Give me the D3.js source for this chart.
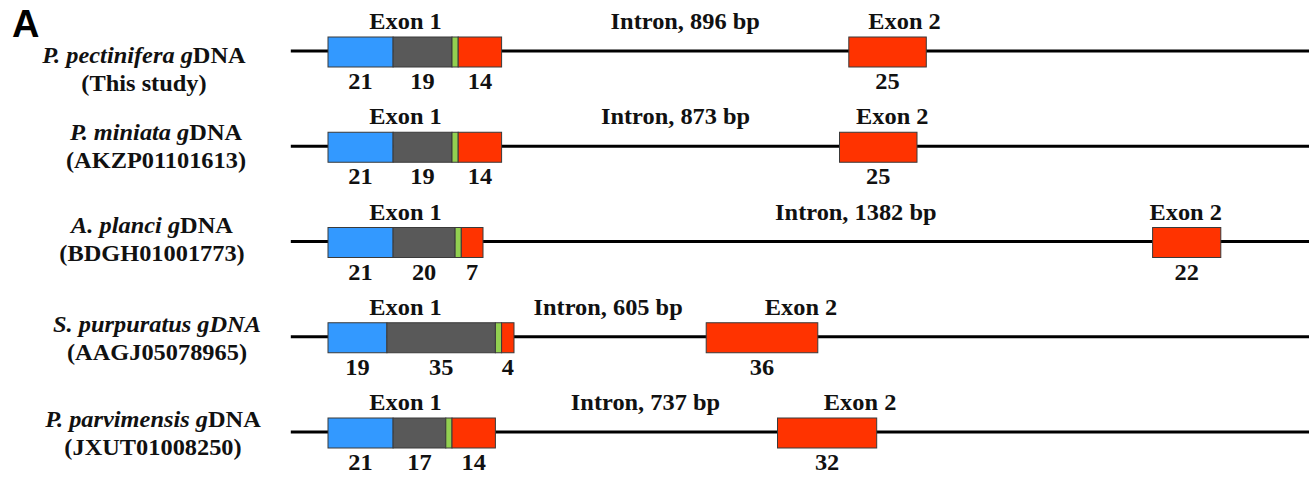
<!DOCTYPE html>
<html>
<head>
<meta charset="utf-8">
<script src="https://cdn.jsdelivr.net/npm/d3@7"></script>
<style>
body { margin: 0; background: #fff; }
svg { display: block; }
</style>
</head>
<body>
<svg id="chart" width="1309" height="477"></svg>
<script>
// gene rows, top to bottom
var species = ["P. pectinifera", "P. miniata", "A. planci", "S. purpuratus", "P. parvimensis"];
var accessions = ["(This study)", "(AKZP01101613)", "(BDGH01001773)", "(AAGJ05078965)", "(JXUT01008250)"];
var dnaItalic = [false, false, false, true, false];

// exon 1 parts (aa): blue, grey, green (unlabelled), red
var partBlue = [21, 21, 21, 19, 21];
var partGrey = [19, 19, 20, 35, 17];
var partGreen = [2, 2, 2, 2, 2];
var partRed = [14, 14, 7, 4, 14];
// exon 2 (aa)
var exon2 = [25, 25, 22, 36, 32];
// intron size (bp) and the length it is drawn with (aa units, not to scale)
var intronBp = [896, 873, 1382, 605, 737];
var intronDrawn = [112, 109, 216, 62, 91];

// label placement tweaks
var speciesX = [144, 156, 152, 157, 153];
var speciesDy = [12, -6, -9, -5, -5];
var intronNudge = [10, 5, 38, -2, 9];
var exon2Nudge = [17, 14, -1, 39, 33];

var colorBlue = "#3399ff";
var colorGrey = "#595959";
var colorGreen = "#92d050";
var colorRed = "#ff3300";
var stretch = 1.06;

var width = 1309;
var svg = d3.select("#chart");
var x = d3.scaleLinear().domain([0, 100]).range([328, 638]);
var y = d3.scalePoint().domain(d3.range(species.length)).range([51, 432]);

function label(px, py, size) {
    return svg.append("text")
        .attr("transform", "translate(" + px + "," + py + ") scale(" + stretch + ",1)")
        .attr("text-anchor", "middle")
        .style("font-family", "'Liberation Serif','Times New Roman',serif")
        .style("font-weight", "bold")
        .style("font-size", (size || 23) + "px")
        .style("fill", "#111");
}

svg.append("text").attr("x", 12).attr("y", 37)
    .style("font-family", "'Liberation Sans',Arial,sans-serif")
    .style("font-weight", "bold").style("font-size", "38px")
    .text("A");

species.forEach(function (name, i) {
    var yy = y(i);
    var segs = [];
    var pos = 0;
    [[partBlue[i], colorBlue, true], [partGrey[i], colorGrey, true],
     [partGreen[i], colorGreen, false], [partRed[i], colorRed, true]].forEach(function (p) {
        segs.push({start: pos, len: p[0], color: p[1], show: p[2]});
        pos += p[0];
    });
    var exon1End = pos;
    var exon2Start = exon1End + intronDrawn[i];
    segs.push({start: exon2Start, len: exon2[i], color: colorRed, show: true});

    // species label
    var t = label(speciesX[i], yy + speciesDy[i]);
    t.append("tspan").style("font-style", "italic").text(name + " ");
    t.append("tspan").style("font-style", "italic").text("g");
    t.append("tspan").style("font-style", dnaItalic[i] ? "italic" : "normal").text("DNA");
    label(speciesX[i], yy + speciesDy[i] + 28).text(accessions[i]);

    // backbone
    svg.append("line")
        .attr("x1", x(-12)).attr("x2", width)
        .attr("y1", yy).attr("y2", yy)
        .attr("stroke", "#000").attr("stroke-width", 3);

    svg.selectAll(null).data(segs).enter().append("rect")
        .attr("x", function (d) { return x(d.start); })
        .attr("y", yy - 14)
        .attr("width", function (d) { return x(d.len) - x(0); })
        .attr("height", 30)
        .attr("fill", function (d) { return d.color; })
        .attr("stroke", "#3a3a3a").attr("stroke-width", 1);

    segs.forEach(function (d) {
        if (d.show) {
            label(x(d.start + d.len / 2), yy + 38).text(d.len);
        }
    });

    label(x(25), yy - 22).text("Exon 1");
    label((x(exon1End) + x(exon2Start)) / 2 + intronNudge[i], yy - 22)
        .text("Intron, " + intronBp[i] + " bp");
    label(x(exon2Start + exon2[i] / 2) + exon2Nudge[i], yy - 22).text("Exon 2");
});
</script>
</body>
</html>
